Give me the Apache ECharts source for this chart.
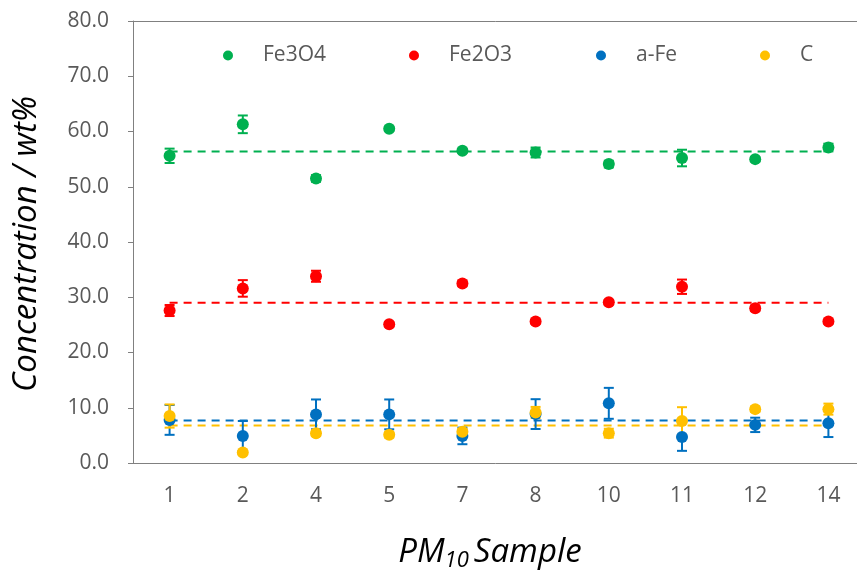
<!DOCTYPE html>
<html><head><meta charset="utf-8">
<script src="https://cdn.jsdelivr.net/npm/echarts@6/dist/echarts.min.js"></script>
<style>html,body{margin:0;padding:0;background:#fff;overflow:hidden}#c{width:857px;height:578px}</style>
</head><body><div id="c"></div>
<script>
// ---- data ----
const samples = ['1','2','4','5','7','8','10','11','12','14'];
const fe3o4    = [55.6,61.3,51.5,60.5,56.5,56.2,54.1,55.2,55.0,57.1];
const fe3o4Err = [1.3,1.6,0.6,0.4,0.4,0.9,0.6,1.5,0.4,0.7];
const fe2o3    = [27.6,31.6,33.8,25.1,32.5,25.6,29.1,31.9,28.0,25.6];
const fe2o3Err = [1.0,1.5,1.0,0.4,0.5,0.4,0.4,1.3,0.5,0.4];
const aFe      = [7.8,4.9,8.8,8.8,4.9,8.85,10.8,4.7,6.9,7.2];
const aFeErr   = [2.7,2.7,2.7,2.7,1.5,2.7,2.8,2.5,1.3,2.5];
const carbon   = [8.5,1.9,5.4,5.1,5.65,9.15,5.4,7.6,9.75,9.75];
const carbonErr= [2.1,0.3,0.5,0.5,0.5,1.0,0.8,2.5,0.5,1.0];
const meanValues = [56.4,29.0,7.7,6.8];
const seriesNames = ['Fe3O4','Fe2O3','a-Fe','C'];
const yMin = 0, yMax = 80, yStep = 10;

// ---- build ----
const values = [fe3o4, fe2o3, aFe, carbon];
const errors = [fe3o4Err, fe2o3Err, aFeErr, carbonErr];
const colors = ['#00B050','#FF0000','#0070C0','#FFC000'];
const legendLeft = [223, 409, 596, 760];
const FONT = '"Open Sans", "Noto Sans", sans-serif';

function errRender(color){
  return function(params, api){
    const i = api.value(0), v = api.value(1), e = api.value(2);
    const t = api.coord([i, v + e]), b = api.coord([i, v - e]);
    const hw = 5, st = {stroke: color, lineWidth: 2};
    return {type:'group', children:[
      {type:'line', shape:{x1:t[0],y1:t[1],x2:b[0],y2:b[1]}, style:st},
      {type:'line', shape:{x1:t[0]-hw,y1:t[1],x2:t[0]+hw,y2:t[1]}, style:st},
      {type:'line', shape:{x1:b[0]-hw,y1:b[1],x2:b[0]+hw,y2:b[1]}, style:st}
    ]};
  };
}

const series = [];
seriesNames.forEach((n,k)=>{
  series.push({
    name: n + ' mean', type:'line', silent:true, symbol:'none',
    data: [[0, meanValues[k]], [samples.length-1, meanValues[k]]],
    lineStyle:{color: colors[k], width:2, type:[8,6]}, z:1
  });
});
seriesNames.forEach((n,k)=>{
  series.push({
    name: n + ' err', type:'custom', silent:true,
    renderItem: errRender(colors[k]),
    encode:{x:0, y:1},
    data: samples.map((s,i)=>[i, values[k][i], errors[k][i]]), z:2
  });
  series.push({
    name: n, type:'scatter', symbol:'circle', symbolSize:12,
    itemStyle:{color: colors[k], opacity:1},
    data: values[k], z:2
  });
});

const chart = echarts.init(document.getElementById('c'), null, {renderer:'canvas'});
chart.setOption({
  animation:false,
  backgroundColor:'#fff',
  grid:{left:133, top:21, width:732, height:442, outerBoundsMode:'none', containLabel:false, show:false},
  legend: seriesNames.map((n,k)=>({
    data:[{name:n, icon:'circle', itemStyle:{color:colors[k]}}],
    left: legendLeft[k], top:45, padding:0, itemWidth:10, itemHeight:12,
    textStyle:{fontFamily:FONT, fontSize:21, color:'#595959', padding:[0,0,0,25]}
  })),
  xAxis:[{
    type:'category', data:samples, boundaryGap:true, position:'bottom',
    axisLine:{show:true, lineStyle:{color:'#808080', width:1}},
    axisTick:{show:false},
    axisLabel:{fontFamily:FONT, fontSize:21, color:'#595959', margin:23},
    splitLine:{show:false}
  },{
    type:'category', data:samples, boundaryGap:true, position:'top',
    axisLine:{show:true, lineStyle:{color:'#808080', width:1}},
    axisTick:{show:false}, axisLabel:{show:false}, splitLine:{show:false}
  }],
  yAxis:{
    type:'value', min:yMin, max:yMax, interval:yStep,
    axisLine:{show:true, lineStyle:{color:'#808080', width:1}},
    axisTick:{show:true, inside:false, length:5, lineStyle:{color:'#808080'}},
    axisLabel:{fontFamily:FONT, fontSize:21, color:'#595959', margin:24, formatter:v=>v.toFixed(1)},
    splitLine:{show:false}
  },
  graphic:[
    {type:'text', x:27, y:244, rotation:Math.PI/2,
      style:{text:'Concentration / wt%', font:'italic 33px "Open Sans", "Noto Sans", sans-serif', fill:'#000', align:'center', verticalAlign:'middle'}},
    {type:'text', x:490, y:553,
      style:{text:'{a|PM}{b|10}{c|Sample}', align:'center', verticalAlign:'middle',
        rich:{
          a:{fontFamily:FONT, fontStyle:'italic', fontSize:33, color:'#000'},
          b:{fontFamily:FONT, fontStyle:'italic', fontSize:22, color:'#000', padding:[16,0,0,0]},
          c:{fontFamily:FONT, fontStyle:'italic', fontSize:33, color:'#000', padding:[0,0,0,5]}
        }}}
  ],
  series: series
});
</script></body></html>
